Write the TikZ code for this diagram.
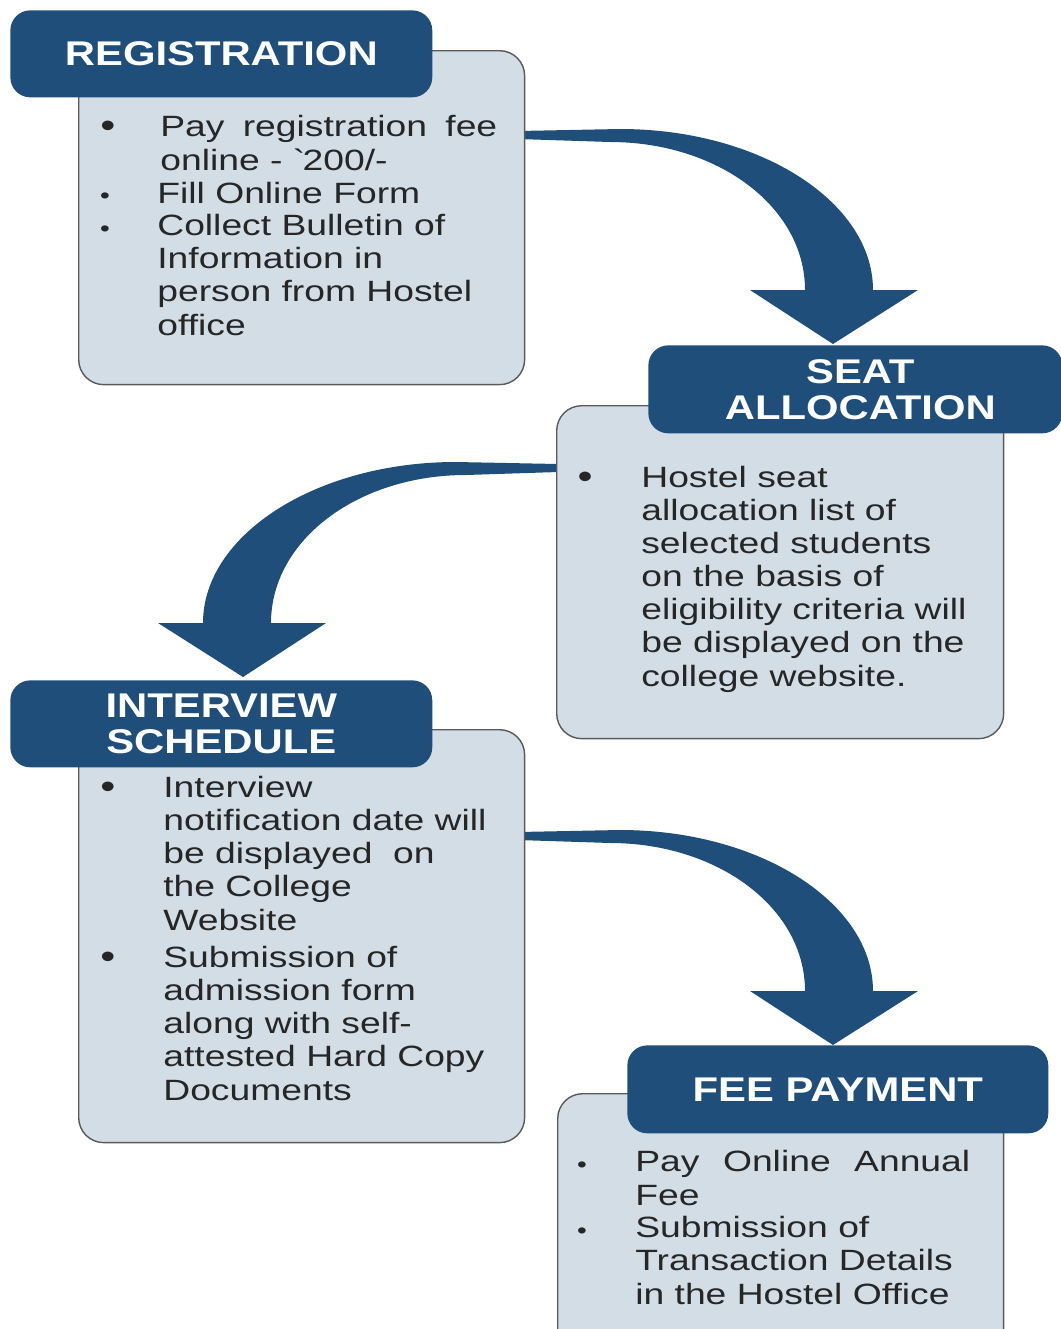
\documentclass[tikz,border=0pt]{standalone}
\usepackage{fontspec}
\setmainfont{Liberation Sans}[FakeStretch=1.22]
\newfontfamily\bodyfont{Liberation Sans}[FakeStretch=1.27]
\usepackage{tikz}

\definecolor{headblue}{HTML}{1E4E79}
\definecolor{boxfill}{HTML}{D2DDE6}
\definecolor{boxline}{HTML}{5A5A5A}
\definecolor{txtgray}{HTML}{262626}

\tikzset{
headbox/.style={fill=headblue, rounded corners=0.4cm, anchor=north west, inner sep=0pt,
  text=white, align=center, font=\fontsize{19.5}{20.5}\selectfont\bfseries},
bodybox/.style={draw=boxline, line width=0.8pt, fill=boxfill, rounded corners=0.5cm,
  anchor=north west, inner sep=0pt},
itemtext/.style={anchor=base west, inner sep=0pt, align=left, text=txtgray,
  font=\bodyfont\fontsize{16.7}{18.8}\selectfont},
bigbul/.style={anchor=base, inner sep=0pt, text=txtgray, font=\fontsize{20}{20}\selectfont},
smallbul/.style={anchor=base, inner sep=0pt, text=txtgray, font=\fontsize{13}{13}\selectfont}
}

% block arrow, tip at the origin
\newcommand{\bentarrow}{%
\fill[headblue] (-315,-213) -- (-213,-215) .. controls (-73,-215) and (40,-142) .. (40,-54)
  -- (85,-54) -- (0,0) -- (-83,-54) -- (-28,-54)
  .. controls (-28,-137) and (-115,-202) .. (-223,-202) -- (-315,-205) -- cycle;}

\begin{document}
\begin{tikzpicture}[x=0.02cm, y=-0.02cm]

\clip (0,0) rectangle (1061,1329);

\coordinate (tip1) at (833,344);
\coordinate (tip2) at (243,677);
\coordinate (tip3) at (833,1045);

\begin{scope}[shift={(tip1)}]
\bentarrow
\end{scope}
\begin{scope}[shift={(tip2)}, xscale=-1]
\bentarrow
\end{scope}
\begin{scope}[shift={(tip3)}]
\bentarrow
\end{scope}

\node[bodybox, minimum width=8.92cm, minimum height=6.68cm] (regbody) at (78,50) {};
\node[headbox, minimum width=8.44cm, minimum height=1.74cm] (reghead) at (10,10) {REGISTRATION};

\node[bodybox, minimum width=8.94cm, minimum height=6.66cm] (seatbody) at (556,405) {};
\node[headbox, minimum width=8.28cm, minimum height=1.76cm] (seathead) at (648,345) {\hspace{0.2cm}SEAT\\\hspace{0.2cm}ALLOCATION};

\node[bodybox, minimum width=8.92cm, minimum height=8.26cm] (intbody) at (78,729) {};
\node[headbox, minimum width=8.44cm, minimum height=1.74cm] (inthead) at (10,680) {INTERVIEW\\SCHEDULE};

\node[bodybox, minimum width=8.92cm, minimum height=5.4cm] (feebody) at (557,1093) {};
\node[headbox, minimum width=8.42cm, minimum height=1.76cm] (feehead) at (627,1045) {FEE PAYMENT};

% item texts sit on the baseline of their last line
\node[bigbul] (rb1) at (108,137) {\textbullet};
\node[itemtext] (rt1) at (160,170) {\makebox[6.74cm][s]{Pay registration fee}\\online - \textasciigrave200/-};
\node[smallbul] (rb2) at (105,203) {\textbullet};
\node[itemtext] (rt2) at (157,203) {Fill Online Form};
\node[smallbul] (rb3) at (105,236) {\textbullet};
\node[itemtext] (rt3) at (157,335) {Collect Bulletin of\\Information in\\person from Hostel\\office};

\node[bigbul] (sb1) at (585,488) {\textbullet};
\node[itemtext] (st1) at (641,686) {Hostel seat\\allocation list of\\selected students\\on the basis of\\eligibility criteria will\\be displayed on the\\college website.};

\node[bigbul] (ib1) at (108,798) {\textbullet};
\node[itemtext] (it1) at (163,930) {Interview\\notification date will\\be displayed\ \ on\\the College\\Website};
\node[bigbul] (ib2) at (108,968) {\textbullet};
\node[itemtext] (it2) at (163,1100) {Submission of\\admission form\\along with self-\\attested Hard Copy\\Documents};

\node[smallbul] (fb1) at (582,1172) {\textbullet};
\node[itemtext] (ft1) at (635,1205) {\makebox[6.7cm][s]{Pay Online Annual}\\Fee};
\node[smallbul] (fb2) at (582,1238) {\textbullet};
\node[itemtext] (ft2) at (635,1304) {Submission of\\Transaction Details\\in the Hostel Office};

\end{tikzpicture}
\end{document}
